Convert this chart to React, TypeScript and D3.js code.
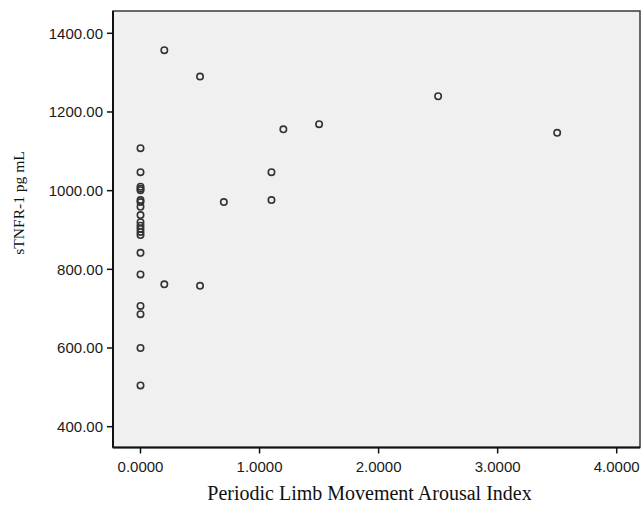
import * as d3 from 'd3';

// Periodic Limb Movement Arousal Index vs sTNFR-1 (pg/mL)
const arousalIndex = [
  0, 0, 0, 0, 0, 0, 0, 0, 0, 0, 0, 0, 0, 0, 0, 0, 0, 0, 0, 0,
  0.2, 0.5, 1.2, 1.5, 2.5, 3.5, 1.1, 1.1, 0.7, 0.2, 0.5,
];
const stnfr1 = [
  1108, 1047, 1010, 1005, 1001, 976, 971, 959, 938, 920, 911, 903, 895, 887, 842, 787, 707, 686, 600, 505,
  1357, 1290, 1156, 1169, 1240, 1147, 1047, 976, 971, 762, 758,
];

const xTicks = [0, 1, 2, 3, 4];
const yTicks = [400, 600, 800, 1000, 1200, 1400];

const xTitle = 'Periodic Limb Movement Arousal Index';
const yTitle = 'sTNFR-1 pg mL';

const width = 641;
const height = 505;
const frame = { left: 113, right: 640, top: 11, bottom: 447.5 };

const App = () => {
  const x = d3.scaleLinear().domain([0, 4]).range([140.5, 616.7]);
  const y = d3.scaleLinear().domain([400, 1400]).range([426.7, 33.3]);

  const points = arousalIndex.map((d, i) => ({ x: d, y: stnfr1[i] }));

  return (
    <svg
      width={width}
      height={height}
      style={{ position: 'absolute', left: 0, top: 0, background: '#fff' }}
    >
      <rect
        x={frame.left}
        y={frame.top}
        width={frame.right - frame.left}
        height={frame.bottom - frame.top}
        fill="#f0f0f0"
        stroke="#3a3a3a"
        strokeWidth={1.5}
      />
      {/* axis lines */}
      <line x1={frame.left} x2={frame.left} y1={frame.top} y2={frame.bottom} stroke="#111" strokeWidth={2} />
      <line x1={frame.left} x2={frame.right} y1={frame.bottom} y2={frame.bottom} stroke="#111" strokeWidth={2} />

      {/* ticks */}
      <g fontFamily="'Liberation Sans', Arial, sans-serif" fontSize={15} fill="#1a1a1a">
        {yTicks.map(t => (
          <g key={t}>
            <line x1={frame.left - 6} x2={frame.left} y1={y(t)} y2={y(t)} stroke="#111" strokeWidth={1.5} />
            <text x={frame.left - 10} y={y(t)} dy="0.36em" textAnchor="end">
              {d3.format('.2f')(t)}
            </text>
          </g>
        ))}
        {xTicks.map(t => (
          <g key={t}>
            <line x1={x(t)} x2={x(t)} y1={frame.bottom} y2={frame.bottom + 6} stroke="#111" strokeWidth={1.5} />
            <text x={x(t)} y={471.5} textAnchor="middle">
              {d3.format('.4f')(t)}
            </text>
          </g>
        ))}
      </g>

      {/* points */}
      <g fill="none" stroke="#333" strokeWidth={1.6}>
        {points.map((p, i) => (
          <circle key={i} cx={x(p.x)} cy={y(p.y)} r={3.2} />
        ))}
      </g>

      {/* titles */}
      <text
        x={(207 + 532) / 2}
        y={500}
        textAnchor="middle"
        fontFamily="'Liberation Serif', 'Times New Roman', serif"
        fontSize={20}
        fill="#111"
      >
        {xTitle}
      </text>
      <text
        transform={`translate(24, 203) rotate(-90)`}
        textAnchor="middle"
        fontFamily="'Liberation Serif', 'Times New Roman', serif"
        fontSize={15.5}
        fill="#111"
      >
        {yTitle}
      </text>
    </svg>
  );
};

export default App;
